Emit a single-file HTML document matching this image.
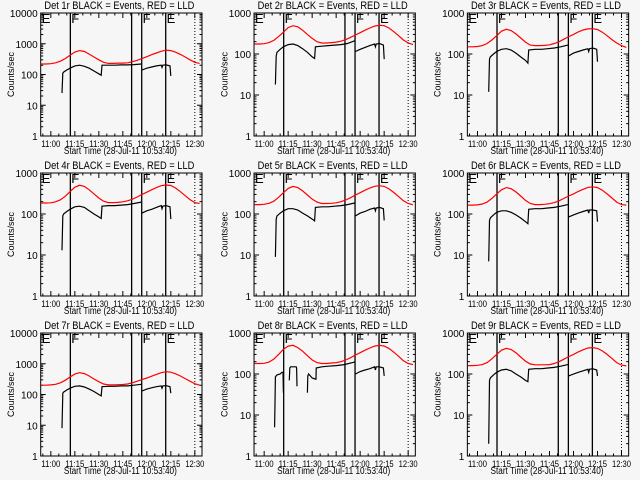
<!DOCTYPE html>
<html><head><meta charset="utf-8"><style>
html,body{margin:0;padding:0;background:#f6f6f6}
svg{display:block}
text{font-family:"Liberation Sans",sans-serif;fill:#000}
</style></head><body>
<svg id="c" width="640" height="480" viewBox="0 0 640 480"></svg>
<script>
const panelNames = ["1r","2r","3r","4r","5r","6r","7r","8r","9r"];
const panelMaxDecade = [4,3,3,3,3,3,4,3,3];
const xTickLabels = ["11:00","11:15","11:30","11:45","12:00","12:15","12:30"];
const xTickTimes = [60,75,90,105,120,135,150];
const markerTimes = [72.2,110.5,116.8,131.8];
const markerLabels = ["E","F","F","E"];
const markerLabelTimes = [54.3,72.8,117.4,132.4];
const dottedTime = 150;
const redTimes = [54,57,60,63,66,69,72,75,78,81,84,87,90,93,96,99,102,105,108,111,114,117,120,123,126,129,132,135,138,141,144,147,150,153];
const red1 = [220,220,225,240,270,330,420,540,600,560,460,370,300,250,230,230,235,235,240,260,290,330,380,440,500,570,620,600,530,450,370,300,250,230];
const red2 = [175,175,178,190,215,265,340,440,490,460,380,300,240,200,185,185,190,195,205,225,255,290,330,380,430,480,500,490,430,350,280,220,185,170];
const red3 = [150,150,152,160,180,220,280,360,400,375,310,245,195,165,160,160,162,168,180,200,230,265,300,345,385,410,415,395,340,280,225,185,160,145];
const red4 = [185,185,188,198,222,270,350,450,500,470,390,310,245,205,190,190,192,198,210,230,260,300,340,390,440,490,510,495,430,350,280,225,190,180];
const red5 = [170,170,172,182,205,255,330,420,470,440,365,290,230,195,180,180,182,188,200,220,250,290,330,380,430,475,490,470,410,335,265,210,180,168];
const red6 = [165,165,167,175,195,240,310,390,440,415,345,275,215,180,170,170,172,178,190,210,240,275,310,355,400,445,460,440,380,310,245,195,170,165];
const red7 = [200,200,205,215,240,290,370,460,510,480,400,320,260,220,205,205,208,212,220,240,270,305,345,395,450,510,550,530,470,400,330,270,225,200];
const red8 = [180,180,182,195,230,300,400,480,500,440,360,280,220,190,180,180,185,190,200,220,250,290,330,380,430,480,500,480,420,340,270,210,180,170];
const red9 = [160,160,163,170,190,235,300,380,420,395,330,260,205,175,168,168,168,170,180,200,230,265,300,345,390,430,440,420,365,300,240,190,165,158];
const blackTimes = [67,67.5,68,70,72,75,78,81,84,87,90,91.5,92,96,100,104,108,112,116.5,null,117,120,123,126,129,129.5,130,132,134.5,135];
const black1 = [25,110,120,140,160,190,200,185,160,130,105,95,200,200,200,205,205,210,220,null,140,160,175,190,200,170,200,205,190,90];
const black2 = [18,90,110,130,150,170,175,160,135,110,85,78,150,155,160,165,170,180,210,null,115,130,145,160,175,150,175,180,165,75];
const black3 = [12,75,85,100,115,130,135,125,105,85,70,60,125,130,130,135,140,150,165,null,90,105,115,125,135,115,135,140,130,65];
const black4 = [13,90,100,115,130,150,155,145,120,100,85,78,155,160,160,165,170,180,195,null,105,120,130,145,160,135,155,160,150,75];
const black5 = [9,75,90,105,120,135,135,125,105,90,75,68,145,150,150,155,160,170,185,null,90,105,115,130,140,120,140,145,135,70];
const black6 = [7,70,80,95,110,120,120,110,95,80,65,58,130,135,135,140,145,155,170,null,85,95,105,115,125,105,125,125,120,65];
const black7 = [8,110,120,140,160,185,190,175,150,125,100,90,180,185,185,190,190,200,215,null,130,150,165,180,190,160,190,195,180,110];
const black9 = [2,70,80,95,110,125,130,120,100,85,70,65,130,135,135,140,145,155,170,null,90,100,110,120,130,110,130,135,125,90];
const black8Times = [66.5,66.8,67,67.5,68,70,71,71.8,72,null,75.7,76,76.5,78,80,80.3,80.5,null,87,87.3,87.8,90,92,92.4,92.5,96,100,105,110,116.5,null,117,120,123,126,129,129.5,130,132,134.5,135];
const black8 = [5,20,85,90,95,100,110,110,35,null,70,140,150,150,150,140,50,null,35,90,100,80,75,75,140,150,155,160,170,195,null,100,115,125,135,150,125,150,150,140,90];
const reds = [red1,red2,red3,red4,red5,red6,red7,red8,red9];
const blacks = [black1,black2,black3,black4,black5,black6,black7,black8,black9];

const NS = "http://www.w3.org/2000/svg";
const svg = document.getElementById("c");
function mk(tag, attrs, parent){const e=document.createElementNS(NS,tag);for(const k in attrs)e.setAttribute(k,attrs[k]);(parent||svg).appendChild(e);return e;}

for(let p=0;p<9;p++){
  const c=p%3, r=Math.floor(p/3);
  const ox=c*213.33, oy=r*160;
  const x0=ox+40.7, x1=ox+202, y0=oy+13, y1=oy+136;
  const dec=panelMaxDecade[p];
  const xs=t=>x0+(t-53.67)*1.6;
  const ys=v=>y1-(Math.log10(Math.max(v,0.5)))*(y1-y0)/dec;
  const g=mk("g",{});
  
  
  const title=mk("text",{x:(x0+x1)/2-2,y:oy+9,"text-anchor":"middle","font-size":"11",textLength:"150",lengthAdjust:"spacingAndGlyphs"},g);
  title.textContent="Det "+panelNames[p]+" BLACK = Events, RED = LLD";
  
  
  const box=mk("rect",{x:x0,y:y0,width:x1-x0,height:y1-y0,fill:"none",stroke:"#000","stroke-width":1},g);
  
  
  for(let d=0;d<=dec;d++){
    const y=ys(Math.pow(10,d));
    mk("line",{x1:x0,x2:x0+5,y1:y,y2:y,stroke:"#000"},g);
    mk("line",{x1:x1,x2:x1-5,y1:y,y2:y,stroke:"#000"},g);
    const t=mk("text",{x:x0-3,y:y+4,"text-anchor":"end","font-size":"10"},g);
    t.textContent=String(Math.pow(10,d));
    
    
    if(d<dec){for(let m=2;m<10;m++){const ym=ys(m*Math.pow(10,d));
      mk("line",{x1:x0,x2:x0+2.5,y1:ym,y2:ym,stroke:"#000"},g);
      mk("line",{x1:x1,x2:x1-2.5,y1:ym,y2:ym,stroke:"#000"},g);}}
  }
  const yl=mk("text",{x:0,y:0,"text-anchor":"middle","font-size":"9",transform:`translate(${ox+14},${(y0+y1)/2}) rotate(-90)`},g);
  yl.textContent="Counts/sec";
  
  
  for(let i=0;i<xTickTimes.length;i++){
    const x=xs(xTickTimes[i]);
    mk("line",{x1:x,x2:x,y1:y1,y2:y1-5,stroke:"#000"},g);
    mk("line",{x1:x,x2:x,y1:y0,y2:y0+5,stroke:"#000"},g);
    const t=mk("text",{x:x,y:y1+11,"text-anchor":"middle","font-size":"9",textLength:"19",lengthAdjust:"spacingAndGlyphs"},g);
    t.textContent=xTickLabels[i];
    
    
  }
  for(let tm=55;tm<155;tm+=5){ if(tm%15===0) continue; const x=xs(tm);
    mk("line",{x1:x,x2:x,y1:y1,y2:y1-2.5,stroke:"#000"},g);
    mk("line",{x1:x,x2:x,y1:y0,y2:y0+2.5,stroke:"#000"},g);}
  const xt=mk("text",{x:(x0+x1)/2-1,y:oy+154,"text-anchor":"middle","font-size":"10",textLength:"113",lengthAdjust:"spacingAndGlyphs"},g);
  xt.textContent="Start Time (28-Jul-11 10:53:40)";
  
  
  for(let i=0;i<markerTimes.length;i++){
    const x=xs(markerTimes[i]);
    const l=mk("line",{x1:x,x2:x,y1:y0,y2:y1,stroke:"#000","stroke-width":1.3},g);
    
    
  }
  for(let i=0;i<markerLabels.length;i++){
    const t=mk("text",{x:xs(markerLabelTimes[i]),y:y0+10,"font-size":"13"},g);
    t.textContent=markerLabels[i];
    
    
  }
  const dl=mk("line",{x1:xs(dottedTime),x2:xs(dottedTime),y1:y0,y2:y1,stroke:"#000","stroke-dasharray":"1,2"},g);
  
  
  function path(ts,vs){let d="",pen=false;for(let i=0;i<ts.length;i++){if(ts[i]===null||vs[i]===null){pen=false;continue;}
    d+=(pen?"L":"M")+xs(ts[i]).toFixed(1)+","+ys(vs[i]).toFixed(1);pen=true;}return d;}
  const rp=mk("path",{d:path(redTimes,reds[p]),fill:"none",stroke:"#ff0000","stroke-width":1.2},g);
  
  
  const bt=p===7?black8Times:blackTimes;
  const bp=mk("path",{d:path(bt,blacks[p]),fill:"none",stroke:"#000","stroke-width":1.2},g);
  
  
}
</script>
</body></html>
